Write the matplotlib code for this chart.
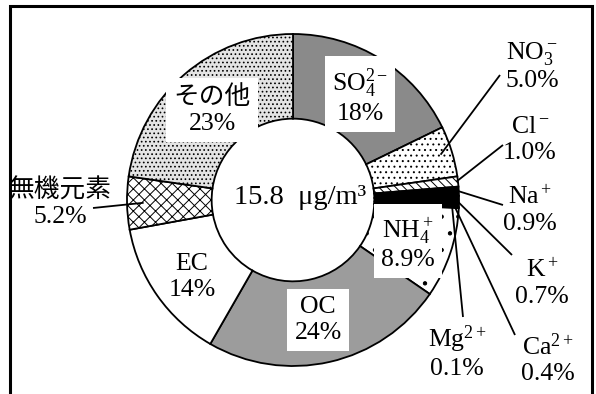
import numpy as np
import matplotlib
matplotlib.use("Agg")
import matplotlib.pyplot as plt
from matplotlib.patches import Rectangle

plt.rcParams["mathtext.fontset"] = "custom"
plt.rcParams["mathtext.rm"] = "Liberation Serif"
plt.rcParams["mathtext.it"] = "Liberation Serif:italic"
plt.rcParams["hatch.linewidth"] = 0.7

# PM2.5 composition (share of total mass, %)
components = ["SO4", "NO3", "Cl", "Na", "K", "Ca", "Mg", "NH4", "OC", "EC", "無機元素", "その他"]
names = [r"SO$_4^{2-}$", r"NO$_3^-$", r"Cl$^-$", r"Na$^+$", r"K$^+$", r"Ca$^{2+}$",
         r"Mg$^{2+}$", r"NH$_4^+$", "OC", "EC", "無機元素", "その他"]
shares = [18, 5.0, 1.0, 0.9, 0.7, 0.4, 0.1, 8.9, 24, 14, 5.2, 23]
total_mass = 15.8  # μg/m³

face_colors = ["#8a8a8a", "white", "white", "black", "black", "black", "black",
               "white", "#9c9c9c", "white", "white", "#e4e4e4"]
hatches = [None, "...", "\\\\\\\\", None, None, None, None, ".", None, None, "xxx", "...."]

W, H = 596, 394
fig = plt.figure(figsize=(W / 100, H / 100), dpi=100)
ax = fig.add_axes([0, 0, 1, 1])

cx, cy = 293, H - 200
R = 166
wedges, _ = ax.pie(shares, startangle=90, counterclock=False, radius=R,
                   center=(cx, cy),
                   wedgeprops=dict(width=R * 0.51, edgecolor="black", linewidth=1.3))
for w, fc, h in zip(wedges, face_colors, hatches):
    w.set_facecolor(fc)
    if h:
        w.set_hatch(h)

ax.set_xlim(0, W)
ax.set_ylim(0, H)
ax.set_aspect("equal")
ax.axis("off")

# outer frame (open at the bottom edge)
ax.add_patch(Rectangle((10, -10), 582, H - 6 + 10, fill=False, edgecolor="black",
                       linewidth=2.2, zorder=5))


def fmt(v):
    return f"{v:.1f}%" if v < 10 else f"{v:.0f}%"


def ring_point(i, frac):
    ang = np.deg2rad((wedges[i].theta1 + wedges[i].theta2) / 2)
    return cx + R * frac * np.cos(ang), cy + R * frac * np.sin(ang)


serif = ["Liberation Serif", "Noto Sans CJK JP"]
fs = 18.5

# label centres in pixel coordinates (x, y from top), white box flag
label_pos = {
    "SO4": (360, 96, True),
    "NO3": (532, 66, False),
    "Cl": (530, 140, False),
    "Na": (530, 210, False),
    "K": (542, 283, False),
    "Ca": (548, 359, False),
    "Mg": (457, 352, False),
    "NH4": (408, 243, True),
    "OC": (318, 320, True),
    "EC": (192, 277, False),
    "無機元素": (60, 203, False),
    "その他": (212, 110, True),
}

for i, key in enumerate(components):
    x, yp, boxed = label_pos[key]
    kw = {}
    if boxed:
        kw["bbox"] = dict(facecolor="white", edgecolor="none", pad=5)
    ax.text(x, H - yp, names[i] + "\n" + fmt(shares[i]), ha="center", va="center",
            fontsize=fs, family=serif, linespacing=1.2, zorder=6, **kw)

# leader lines: (start fraction of radius, end point in pixels)
leaders = {
    "NO3": (0.93, (500, 75)),
    "Cl": (0.99, (503, 145)),
    "Na": (1.0, (503, 205)),
    "K": (0.98, (512, 255)),
    "Ca": (0.97, (515, 335)),
    "Mg": (0.96, (463, 317)),
    "無機元素": (0.9, (93, 208)),
}
for key, (frac, (ex, ey)) in leaders.items():
    i = components.index(key)
    sx, sy = ring_point(i, frac)
    ax.plot([sx, ex], [sy, H - ey], color="black", linewidth=1.3, zorder=7,
            solid_capstyle="butt")

ax.text(cx + 7, cy + 3, f"{total_mass}  μg/m³", ha="center", va="center",
        fontsize=20.5, family=serif, zorder=6)

fig.savefig("out.png", dpi=100)
